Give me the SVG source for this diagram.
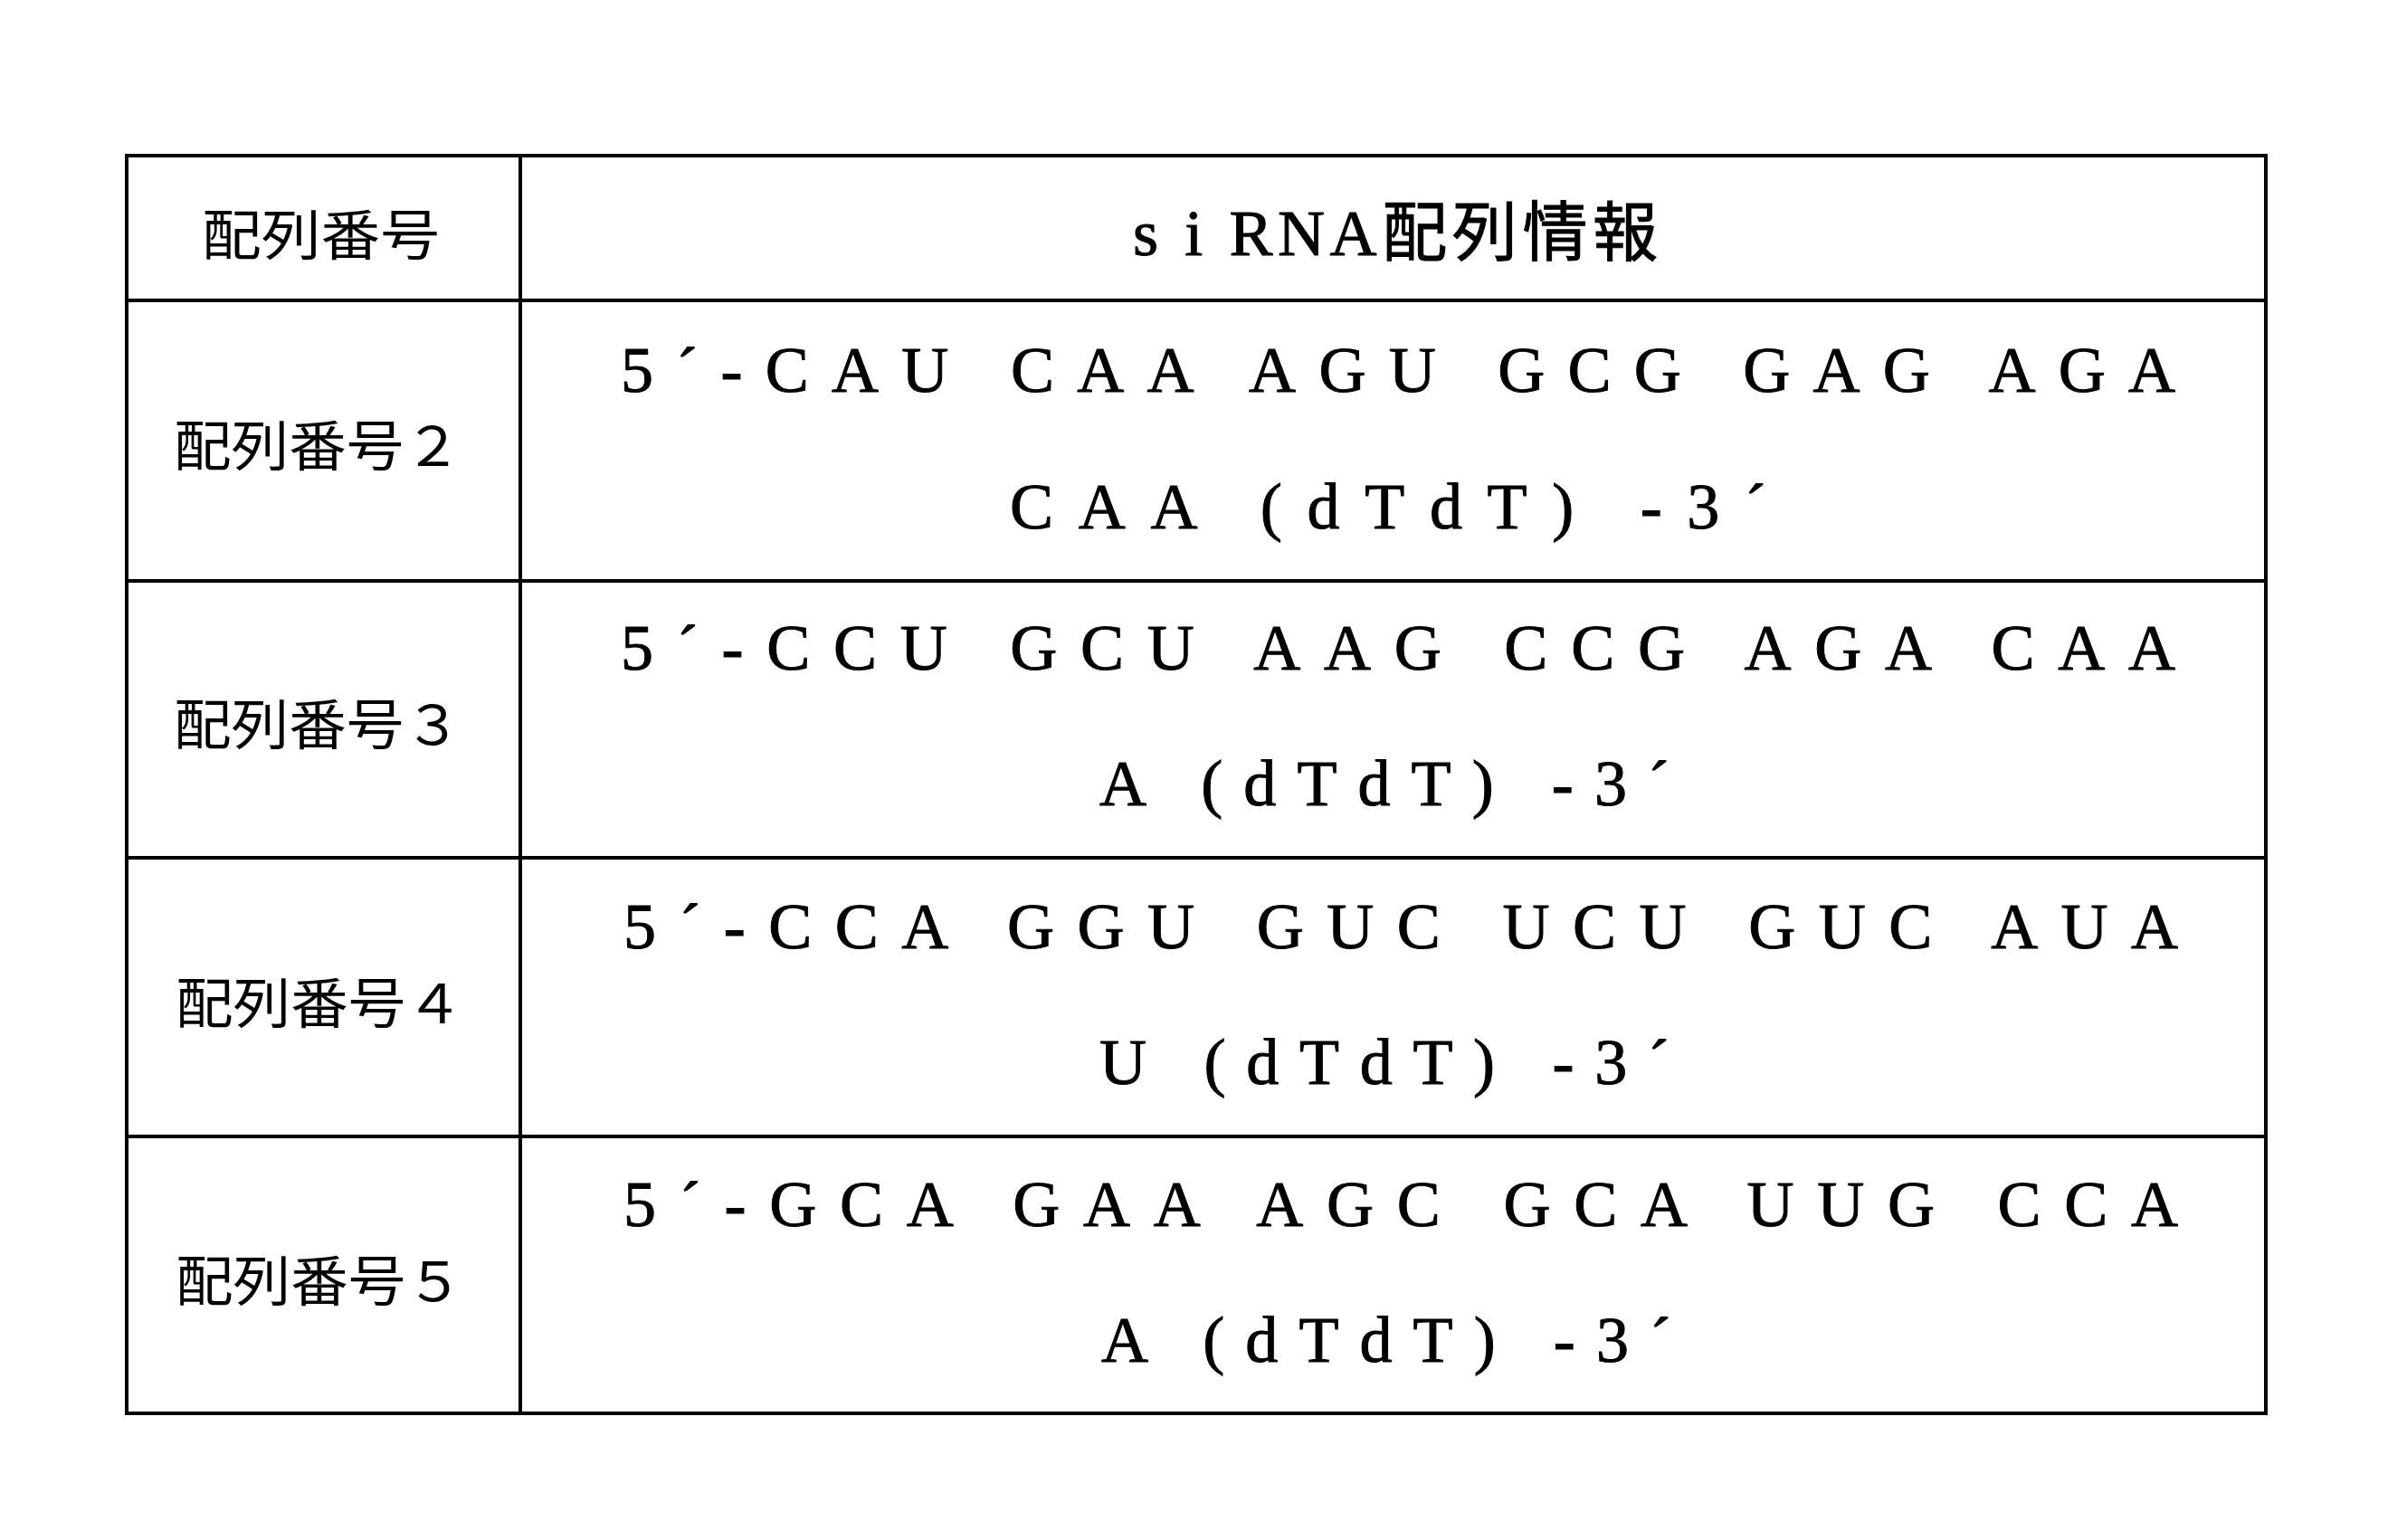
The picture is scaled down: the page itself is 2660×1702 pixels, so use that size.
<svg xmlns="http://www.w3.org/2000/svg" width="2660" height="1702" viewBox="0 0 2660 1702">
<style>
.l{stroke:#000;stroke-width:4;fill:none}
.t{font-family:"Liberation Serif","Noto Sans CJK JP",serif;font-size:72px;fill:#000;stroke:#000;stroke-width:1}
.j{font-family:"Noto Sans CJK JP",sans-serif;font-size:60px;fill:#000}
</style>
<rect width="2660" height="1702" fill="#fff"/>
<g id="grid">
<rect class="l" x="140" y="172" width="2364" height="1390"/>
<line class="l" x1="575" y1="172" x2="575" y2="1562"/>
<line class="l" x1="140" y1="332" x2="2504" y2="332"/>
<line class="l" x1="140" y1="642" x2="2504" y2="642"/>
<line class="l" x1="140" y1="948" x2="2504" y2="948"/>
<line class="l" x1="140" y1="1256" x2="2504" y2="1256"/>
</g>
<g id="header">
<text class="j" x="223" y="282" textLength="263" lengthAdjust="spacingAndGlyphs">配列番号</text>
<text class="t" x="1252" y="282" textLength="580" lengthAdjust="spacing">s i RNA配列情報</text>
</g>
<g id="row2">
<text class="j" x="192" y="515" textLength="318" lengthAdjust="spacingAndGlyphs">配列番号２</text>
<text class="t" x="686" y="433" textLength="1718" lengthAdjust="spacing">5´-CAU  CAA  AGU  GCG  GAG  AGA</text>
<text class="t" x="1116" y="584" textLength="836" lengthAdjust="spacing">CAA  (dTdT) -3´</text>
</g>
<g id="row3">
<text class="j" x="192" y="823" textLength="318" lengthAdjust="spacingAndGlyphs">配列番号３</text>
<text class="t" x="686" y="740" textLength="1718" lengthAdjust="spacing">5´-CCU  GCU  AAG  CCG  AGA  CAA</text>
<text class="t" x="1215" y="890" textLength="630" lengthAdjust="spacing">A (dTdT) -3´</text>
</g>
<g id="row4">
<text class="j" x="194" y="1131" textLength="318" lengthAdjust="spacingAndGlyphs">配列番号４</text>
<text class="t" x="689" y="1048" textLength="1718" lengthAdjust="spacing">5´-CCA  GGU  GUC  UCU  GUC  AUA</text>
<text class="t" x="1215" y="1198" textLength="630" lengthAdjust="spacing">U (dTdT) -3´</text>
</g>
<g id="row5">
<text class="j" x="194" y="1438" textLength="318" lengthAdjust="spacingAndGlyphs">配列番号５</text>
<text class="t" x="689" y="1355" textLength="1718" lengthAdjust="spacing">5´-GCA  GAA  AGC  GCA  UUG  CCA</text>
<text class="t" x="1217" y="1505" textLength="630" lengthAdjust="spacing">A (dTdT) -3´</text>
</g>
<g id="connectors"/>
</svg>
